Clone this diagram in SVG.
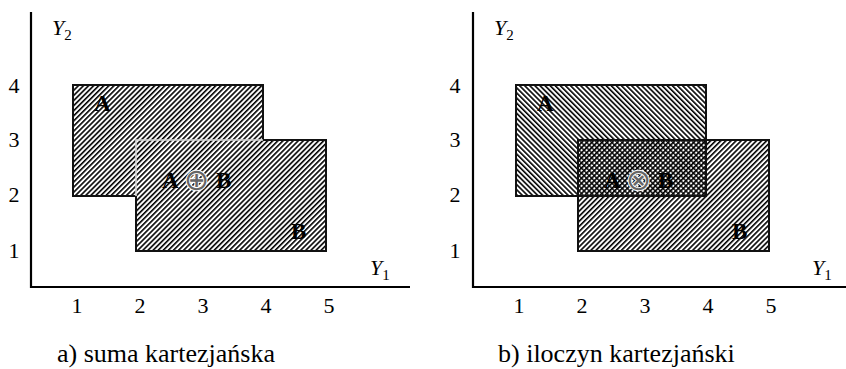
<svg xmlns="http://www.w3.org/2000/svg" width="846" height="369" viewBox="0 0 846 369" font-family="'Liberation Serif', 'Times New Roman', 'DejaVu Serif', serif">
<defs>
<pattern id="hR" width="3.6" height="3.6" patternUnits="userSpaceOnUse" patternTransform="rotate(45)">
<rect width="3.6" height="3.6" fill="#fff"/>
<line x1="0.8" y1="0" x2="0.8" y2="3.6" stroke="#000" stroke-width="1.6"/>
</pattern>
<pattern id="hL" width="3.6" height="3.6" patternUnits="userSpaceOnUse" patternTransform="rotate(-45)">
<rect width="3.6" height="3.6" fill="#fff"/>
<line x1="0.8" y1="0" x2="0.8" y2="3.6" stroke="#000" stroke-width="1.6"/>
</pattern>
<pattern id="hLt" width="3.6" height="3.6" patternUnits="userSpaceOnUse" patternTransform="rotate(-45)">
<line x1="0.8" y1="0" x2="0.8" y2="3.6" stroke="#000" stroke-width="1.4"/>
</pattern>
</defs>
<style>
.ax{stroke:#000;stroke-width:2.2;fill:none}
.box{stroke:#111;stroke-width:2;}
text{font-family:'Liberation Serif','Times New Roman','DejaVu Serif',serif}
.num{font-size:22px;fill:#000}
.var{font-size:22px;font-style:italic;fill:#000}
.sub{font-size:15px;font-style:normal}
.lbl{font-size:23px;font-weight:bold;fill:#000}
.op{font-family:'DejaVu Sans',sans-serif;font-size:30px;font-weight:normal;fill:#666;stroke:#fff;stroke-width:2;paint-order:stroke}
.cap{font-size:26px;fill:#000}
</style>

<g id="panel-a">
<g id="axes-a">
<polyline class="ax" points="31,12 31,287 410,287"/>
<text class="var" x="52" y="35">Y<tspan class="sub" dy="5">2</tspan></text>
<text class="var" x="370" y="275">Y<tspan class="sub" dy="5">1</tspan></text>
<text class="num" x="14" y="93" text-anchor="middle">4</text>
<text class="num" x="14" y="147" text-anchor="middle">3</text>
<text class="num" x="14" y="202" text-anchor="middle">2</text>
<text class="num" x="14" y="258" text-anchor="middle">1</text>
<text class="num" x="77" y="313" text-anchor="middle">1</text>
<text class="num" x="140" y="313" text-anchor="middle">2</text>
<text class="num" x="203" y="313" text-anchor="middle">3</text>
<text class="num" x="266" y="313" text-anchor="middle">4</text>
<text class="num" x="329" y="313" text-anchor="middle">5</text>
</g>
<g id="union">
<path class="box" fill="url(#hR)" d="M73,85 H263 V140 H326 V251 H136 V196 H73 Z"/>
<polyline points="136,196 136,140 263,140" fill="none" stroke="#d8d8d8" stroke-width="1.6"/>
<text class="lbl" x="94" y="111">A</text>
<text class="lbl" x="291" y="239">B</text>
<text class="lbl" x="162" y="188">A<tspan class="op" x="184" y="190">⊕</tspan><tspan x="216" y="188">B</tspan></text>
</g>
<text class="cap" x="57" y="362">a) suma kartezjańska</text>
</g>

<g id="panel-b">
<g id="axes-b">
<polyline class="ax" points="473,12 473,287 846,287"/>
<text class="var" x="494" y="35">Y<tspan class="sub" dy="5">2</tspan></text>
<text class="var" x="812" y="275">Y<tspan class="sub" dy="5">1</tspan></text>
<text class="num" x="455" y="93" text-anchor="middle">4</text>
<text class="num" x="455" y="147" text-anchor="middle">3</text>
<text class="num" x="455" y="202" text-anchor="middle">2</text>
<text class="num" x="455" y="258" text-anchor="middle">1</text>
<text class="num" x="519" y="313" text-anchor="middle">1</text>
<text class="num" x="582" y="313" text-anchor="middle">2</text>
<text class="num" x="645" y="313" text-anchor="middle">3</text>
<text class="num" x="708" y="313" text-anchor="middle">4</text>
<text class="num" x="771" y="313" text-anchor="middle">5</text>
</g>
<g id="set-A">
<rect class="box" x="516" y="85" width="190" height="111" fill="url(#hL)"/>
<text class="lbl" x="537" y="111">A</text>
</g>
<g id="set-B">
<rect class="box" x="578" y="140" width="191" height="111" fill="url(#hR)"/>
<text class="lbl" x="732" y="239">B</text>
</g>
<g id="intersection">
<rect x="578" y="140" width="128" height="56" fill="url(#hLt)"/>
<rect x="578" y="140" width="128" height="56" fill="none" stroke="#111" stroke-width="2"/>
<text class="lbl" x="604" y="188">A<tspan class="op" x="626" y="190">⊗</tspan><tspan x="658" y="188">B</tspan></text>
</g>
<text class="cap" x="498" y="362">b) iloczyn kartezjański</text>
</g>
</svg>
